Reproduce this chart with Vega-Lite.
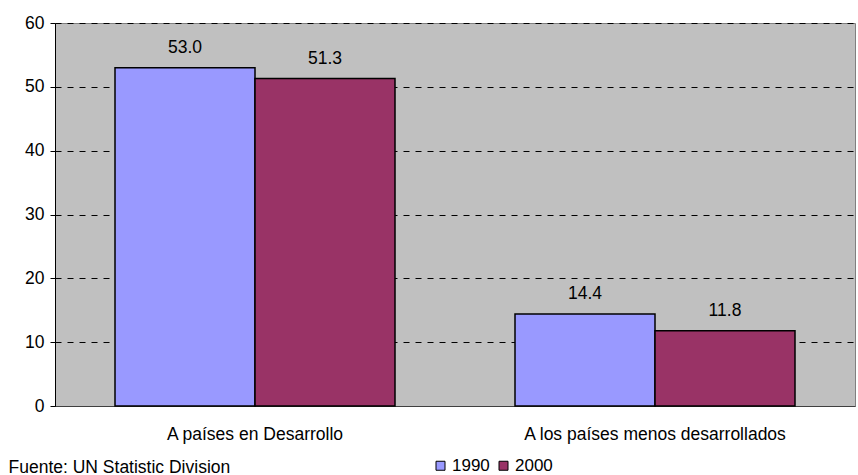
{
  "$schema": "https://vega.github.io/schema/vega-lite/v6.json",
  "width": 800,
  "height": 383,
  "autosize": {"type": "none"},
  "padding": {"left": 55, "top": 23, "right": 3, "bottom": 69},
  "background": "white",
  "config": {
    "font": "Liberation Sans",
    "view": {"fill": "#c0c0c0", "stroke": "#808080", "strokeWidth": 1}
  },
  "data": {
    "values": [
      {"destino": "A países en Desarrollo", "anio": "1990", "valor": 53.0},
      {"destino": "A países en Desarrollo", "anio": "2000", "valor": 51.3},
      {"destino": "A los países menos desarrollados", "anio": "1990", "valor": 14.4},
      {"destino": "A los países menos desarrollados", "anio": "2000", "valor": 11.8}
    ]
  },
  "encoding": {
    "x": {
      "field": "destino",
      "type": "nominal",
      "sort": null,
      "scale": {"paddingInner": 0, "paddingOuter": 0},
      "axis": {
        "title": "Fuente: UN Statistic Division",
        "titleAnchor": "start",
        "titleAlign": "left",
        "titleBaseline": "alphabetic",
        "titleX": -47,
        "titleY": 66,
        "titleFontSize": 17.5,
        "titleFontWeight": "normal",
        "titleColor": "#000000",
        "labelAngle": 0,
        "labelFontSize": 17.5,
        "labelLimit": 0,
        "labelColor": "#000000",
        "labelPadding": 19,
        "ticks": false,
        "domainColor": "#404040",
        "grid": false
      }
    },
    "xOffset": {
      "field": "anio",
      "type": "nominal",
      "scale": {"paddingInner": 0, "paddingOuter": 0.4286}
    },
    "y": {
      "field": "valor",
      "type": "quantitative",
      "scale": {"domain": [0, 60], "nice": false},
      "axis": {
        "title": null,
        "values": [0, 10, 20, 30, 40, 50, 60],
        "labelFontSize": 17.5,
        "labelColor": "#000000",
        "labelPadding": 6,
        "tickColor": "#000000",
        "tickSize": 5,
        "domainColor": "#000000",
        "grid": true,
        "gridColor": "#000000",
        "gridDash": [6, 6],
        "gridWidth": 1
      }
    }
  },
  "layer": [
    {
      "mark": {"type": "bar", "stroke": "#000000", "strokeWidth": 1.5},
      "encoding": {
        "color": {
          "field": "anio",
          "type": "nominal",
          "scale": {"domain": ["1990", "2000"], "range": ["#9999ff", "#993366"]},
          "legend": {
            "title": null,
            "orient": "none",
            "legendX": 377,
            "legendY": 434,
            "direction": "horizontal",
            "symbolType": "square",
            "symbolSize": 81,
            "symbolStrokeColor": "#000000",
            "symbolStrokeWidth": 1,
            "labelFontSize": 17,
            "labelColor": "#000000",
            "labelOffset": 3,
            "columnPadding": 5
          }
        }
      }
    },
    {
      "mark": {"type": "text", "fontSize": 17.5, "color": "#000000", "baseline": "middle", "dy": -20},
      "encoding": {
        "text": {"field": "valor", "type": "quantitative", "format": ".1f"}
      }
    }
  ]
}
